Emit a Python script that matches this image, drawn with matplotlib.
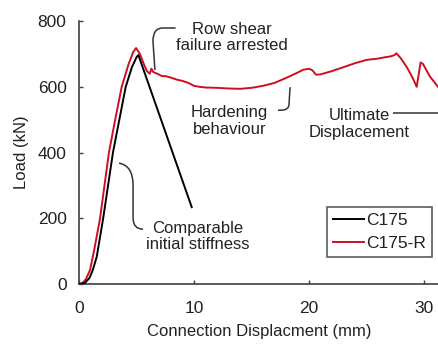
import matplotlib
matplotlib.use("Agg")
import matplotlib.pyplot as plt
from matplotlib.path import Path
from matplotlib.patches import PathPatch

plt.rcParams['font.family'] = ['Liberation Sans', 'DejaVu Sans']

# ---- data ----
c175_x = [0, 0.5, 0.9, 1.2, 1.54, 2.1, 2.95, 4.06, 4.6, 5.0, 5.16, 9.8]
c175_y = [0, 3, 18, 43, 83, 200, 400, 600, 660, 690, 697, 234]

c175r_x = [0, 0.3, 0.6, 0.96, 1.3, 1.83, 2.6, 3.2, 3.71, 4.3, 4.7, 4.96,
           5.3, 5.6, 5.9, 6.15, 6.3, 6.45, 6.8, 7.2, 7.6, 8.0, 8.5, 9.0,
           9.5, 10.0, 10.5, 11.0, 12.0, 13.0, 14.0, 15.0, 16.0, 17.0, 18.0,
           18.8, 19.5, 20.0, 20.3, 20.6, 21.0, 22.0, 23.0, 24.0, 25.0, 26.0,
           26.6, 27.0, 27.4, 27.6, 28.0, 28.5, 29.0, 29.36, 29.7, 29.9, 30.5,
           31.3]
c175r_y = [0, 3, 15, 43, 100, 200, 400, 510, 600, 668, 705, 718,
           700, 672, 648, 640, 655, 645, 640, 633, 632, 628, 622, 618,
           612, 603, 600, 598, 597, 595, 594, 597, 603, 612, 627,
           640, 652, 655, 650, 637, 638, 648, 660, 672, 682, 686,
           690, 692, 696, 702, 686, 660, 628, 600, 674, 670, 632,
           596]

xticks = [0, 10, 20, 30]
yticks = [0, 200, 400, 600, 800]
series_names = ['C175', 'C175-R']

# ---- figure ----
fig = plt.figure(figsize=(4.39, 3.46), dpi=100)
ax = fig.add_axes([0.180, 0.179, 0.820, 0.760])

red = '#cc1020'
ax.plot(c175_x, c175_y, color='black', lw=1.4, label=series_names[0], zorder=3)
ax.plot(c175r_x, c175r_y, color=red, lw=1.4, label=series_names[1], zorder=2)

ax.set_xlim(0, 31.3)
ax.set_ylim(0, 800)
ax.set_xticks(xticks)
ax.set_yticks(yticks)
spine_col = '#404040'
for s in ['top', 'right']:
    ax.spines[s].set_visible(False)
for s in ['left', 'bottom']:
    ax.spines[s].set_color(spine_col)
    ax.spines[s].set_linewidth(1.2)
ax.tick_params(direction='in', length=3, width=1.0, color=spine_col,
               labelsize=12.5, labelcolor='#222222', pad=9)
ax.tick_params(axis='x', pad=12)

ax.set_xlabel('Connection Displacment (mm)', fontsize=12, color='#222222', labelpad=6)
ax.set_ylabel('Load (kN)', fontsize=12, color='#222222', labelpad=6)

tcol = '#222222'
afs = 12

def bracket(verts, codes):
    p = PathPatch(Path(verts, codes), fill=False, edgecolor='#333333', lw=1.1,
                  zorder=4, clip_on=False)
    ax.add_patch(p)

M, L, C = Path.MOVETO, Path.LINETO, Path.CURVE3

# Row shear failure arrested
bracket([(6.6, 651), (6.43, 740), (6.43, 779), (7.3, 779), (8.4, 779)],
        [M, L, C, C, L])
ax.text(13.3, 750, 'Row shear\nfailure arrested', ha='center', va='center',
        fontsize=afs, color=tcol, linespacing=1.15)

# Hardening behaviour
bracket([(18.35, 599), (18.26, 548), (18.26, 529), (17.6, 529), (17.3, 529)],
        [M, L, C, C, L])
ax.text(13.1, 497, 'Hardening\nbehaviour', ha='center', va='center',
        fontsize=afs, color=tcol, linespacing=1.15)

# Ultimate displacement
bracket([(27.3, 520), (31.3, 520)], [M, L])
ax.text(24.35, 487, 'Ultimate\nDisplacement', ha='center', va='center',
        fontsize=afs, color=tcol, linespacing=1.15)

# Comparable initial stiffness
bracket([(3.48, 368), (4.7, 360), (4.7, 301), (4.7, 201), (4.7, 167), (5.57, 167)],
        [M, C, C, L, C, C])
ax.text(10.35, 145, 'Comparable\ninitial stiffness', ha='center', va='center',
        fontsize=afs, color=tcol, linespacing=1.1)

leg = ax.legend(loc='upper left', bbox_to_anchor=(0.689, 0.293), fontsize=12.5,
                frameon=True, fancybox=False, edgecolor='#333333',
                handlelength=1.8, handletextpad=0.1, borderpad=0.35,
                labelspacing=0.45, borderaxespad=0)
leg.get_frame().set_linewidth(1.2)
for t in leg.get_texts():
    t.set_color(tcol)

fig.savefig('out.png', dpi=100)
